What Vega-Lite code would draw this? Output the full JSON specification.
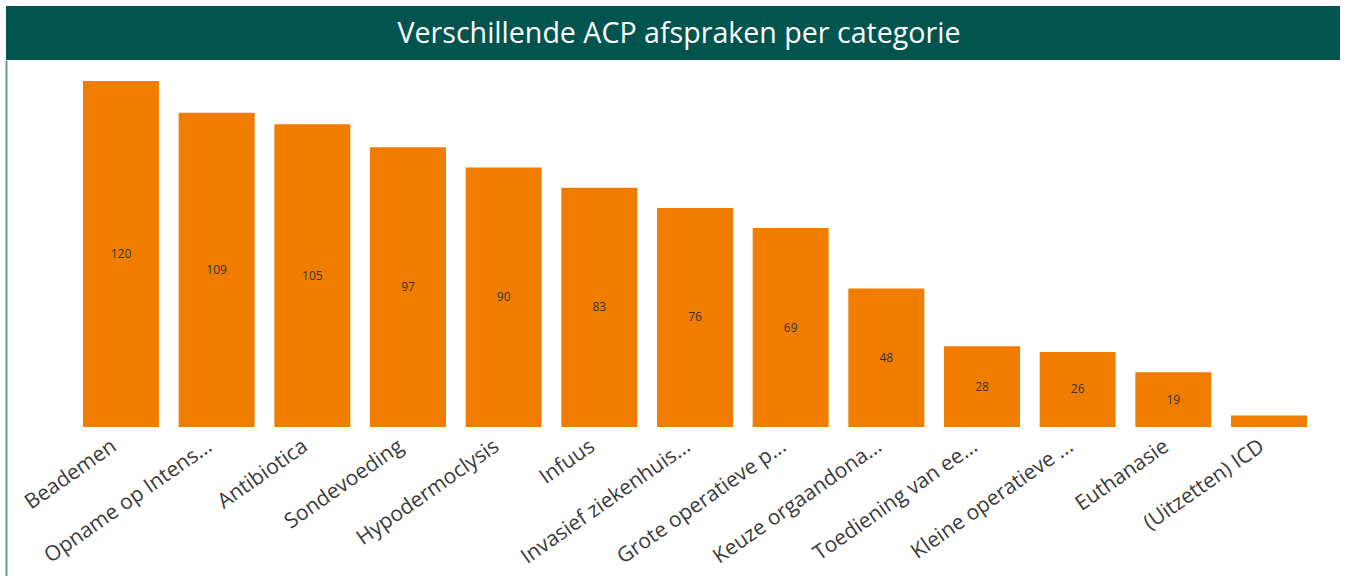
{
  "$schema": "https://vega.github.io/schema/vega-lite/v6.json",
  "autosize": {"type": "pad"},
  "padding": {"left": 6, "top": 6, "right": 0, "bottom": 0},
  "background": "white",
  "spacing": 0,
  "config": {"view": {"stroke": null}, "font": "Open Sans"},
  "datasets": {
    "acp": [
      {"cat": "Beademen", "v": 120},
      {"cat": "Opname op Intens...", "v": 109},
      {"cat": "Antibiotica", "v": 105},
      {"cat": "Sondevoeding", "v": 97},
      {"cat": "Hypodermoclysis", "v": 90},
      {"cat": "Infuus", "v": 83},
      {"cat": "Invasief ziekenhuis...", "v": 76},
      {"cat": "Grote operatieve p...", "v": 69},
      {"cat": "Keuze orgaandona...", "v": 48},
      {"cat": "Toediening van ee...", "v": 28},
      {"cat": "Kleine operatieve ...", "v": 26},
      {"cat": "Euthanasie", "v": 19},
      {"cat": "(Uitzetten) ICD", "v": 4}
    ]
  },
  "vconcat": [
    {
      "width": 1334,
      "height": 54,
      "data": {"values": [{"title": "Verschillende ACP afspraken per categorie"}]},
      "view": {"fill": "#02544F", "stroke": null},
      "mark": {"type": "text", "color": "white", "fontSize": 28.6, "font": "Open Sans", "dy": 1, "dx": 6},
      "encoding": {"text": {"field": "title", "type": "nominal"}}
    },
    {
      "width": 1334,
      "height": 516,
      "data": {"name": "acp"},
      "layer": [
        {
          "mark": {"type": "bar", "color": "#F07D00"},
          "encoding": {
            "x": {
              "field": "cat", "type": "nominal", "sort": null,
              "scale": {"paddingInner": 0.2056, "paddingOuter": 0.5748, "align": 0.7},
              "axis": {"title": null, "labelAngle": -35, "offset": -149, "domain": false, "ticks": false,
                       "labelFontSize": 21, "labelColor": "#3a3a3a", "labelPadding": 8, "labelLimit": 0,
                       "labelOffset": -13, "labelFont": "Open Sans"}
            },
            "y": {
              "field": "v", "type": "quantitative",
              "scale": {"domain": [-51.7, 127.3], "nice": false, "zero": false},
              "axis": {"title": null, "labels": false, "ticks": false, "grid": false,
                       "domainColor": "#5E9E99", "domainWidth": 2}
            }
          }
        },
        {
          "transform": [{"filter": "datum.v >= 10"}],
          "mark": {"type": "text", "fontSize": 12, "color": "#333333", "font": "Open Sans"},
          "encoding": {
            "x": {"field": "cat", "type": "nominal", "sort": null},
            "y": {
              "field": "v", "type": "quantitative",
              "scale": {"domain": [-103.4, 254.6], "nice": false, "zero": false},
              "axis": null
            },
            "text": {"field": "v", "type": "quantitative"}
          }
        }
      ],
      "resolve": {"scale": {"y": "independent"}}
    }
  ]
}
